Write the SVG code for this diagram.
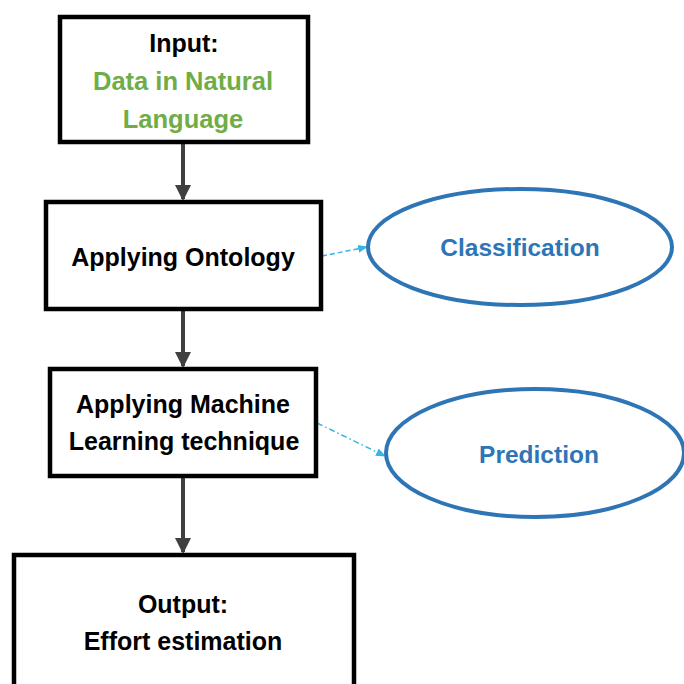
<svg xmlns="http://www.w3.org/2000/svg" width="684" height="684" viewBox="0 0 684 684">
<style>
.box{fill:#fff;stroke:#000;stroke-width:4.5}
.ell{fill:#fff;stroke:#2E75B6;stroke-width:4}
.t{font-family:"Liberation Sans",Arial,sans-serif;font-weight:bold;font-size:25px;text-anchor:middle;fill:#000}
.g{fill:#70AD47;font-size:25.5px}
.b{fill:#2E75B6;font-size:24.5px}
.flow{stroke:#404040;stroke-width:4;fill:none}
.dash{stroke:#33B5E5;stroke-width:1.5;fill:none}
</style>
<defs>
<marker id="ah" markerWidth="4" markerHeight="4" refX="3.5" refY="2" orient="auto" markerUnits="strokeWidth">
<path d="M0,0 L4,2 L0,4 Z" fill="#404040"/>
</marker>
<marker id="ah2" markerWidth="10" markerHeight="8" refX="9" refY="4" orient="auto" markerUnits="userSpaceOnUse">
<path d="M0,0 L10,4 L0,8 Z" fill="#33B5E5"/>
</marker>
</defs>
<rect width="684" height="684" fill="#fff"/>
<g id="connectors">
<line class="flow" x1="183" y1="143" x2="183" y2="199" marker-end="url(#ah)"/>
<line class="flow" x1="183" y1="311" x2="183" y2="366" marker-end="url(#ah)"/>
<line class="flow" x1="183" y1="478" x2="183" y2="552" marker-end="url(#ah)"/>
<line class="dash" x1="322" y1="256" x2="367" y2="247" stroke-dasharray="5,3" marker-end="url(#ah2)"/>
<line class="dash" x1="317" y1="423" x2="385" y2="456" stroke-dasharray="6,3,1.5,3" marker-end="url(#ah2)"/>
</g>
<g id="input">
<rect class="box" x="60" y="17" width="248" height="125"/>
<text class="t" x="184" y="52">Input:</text>
<text class="t g" x="183" y="90">Data in Natural</text>
<text class="t g" x="183" y="128">Language</text>
</g>
<g id="ontology">
<rect class="box" x="46" y="202" width="275" height="107"/>
<text class="t" x="183" y="266">Applying Ontology</text>
</g>
<g id="ml">
<rect class="box" x="50" y="369" width="266" height="107"/>
<text class="t" x="183" y="413">Applying Machine</text>
<text class="t" x="184" y="450">Learning technique</text>
</g>
<g id="output">
<rect class="box" x="14" y="555" width="340" height="140"/>
<text class="t" x="183" y="613">Output:</text>
<text class="t" x="183" y="650">Effort estimation</text>
</g>
<g id="classification">
<ellipse class="ell" cx="520" cy="247" rx="152" ry="58"/>
<text class="t b" x="520" y="256">Classification</text>
</g>
<g id="prediction">
<ellipse class="ell" cx="535" cy="453" rx="149" ry="64"/>
<text class="t b" x="539" y="463">Prediction</text>
</g>
</svg>
